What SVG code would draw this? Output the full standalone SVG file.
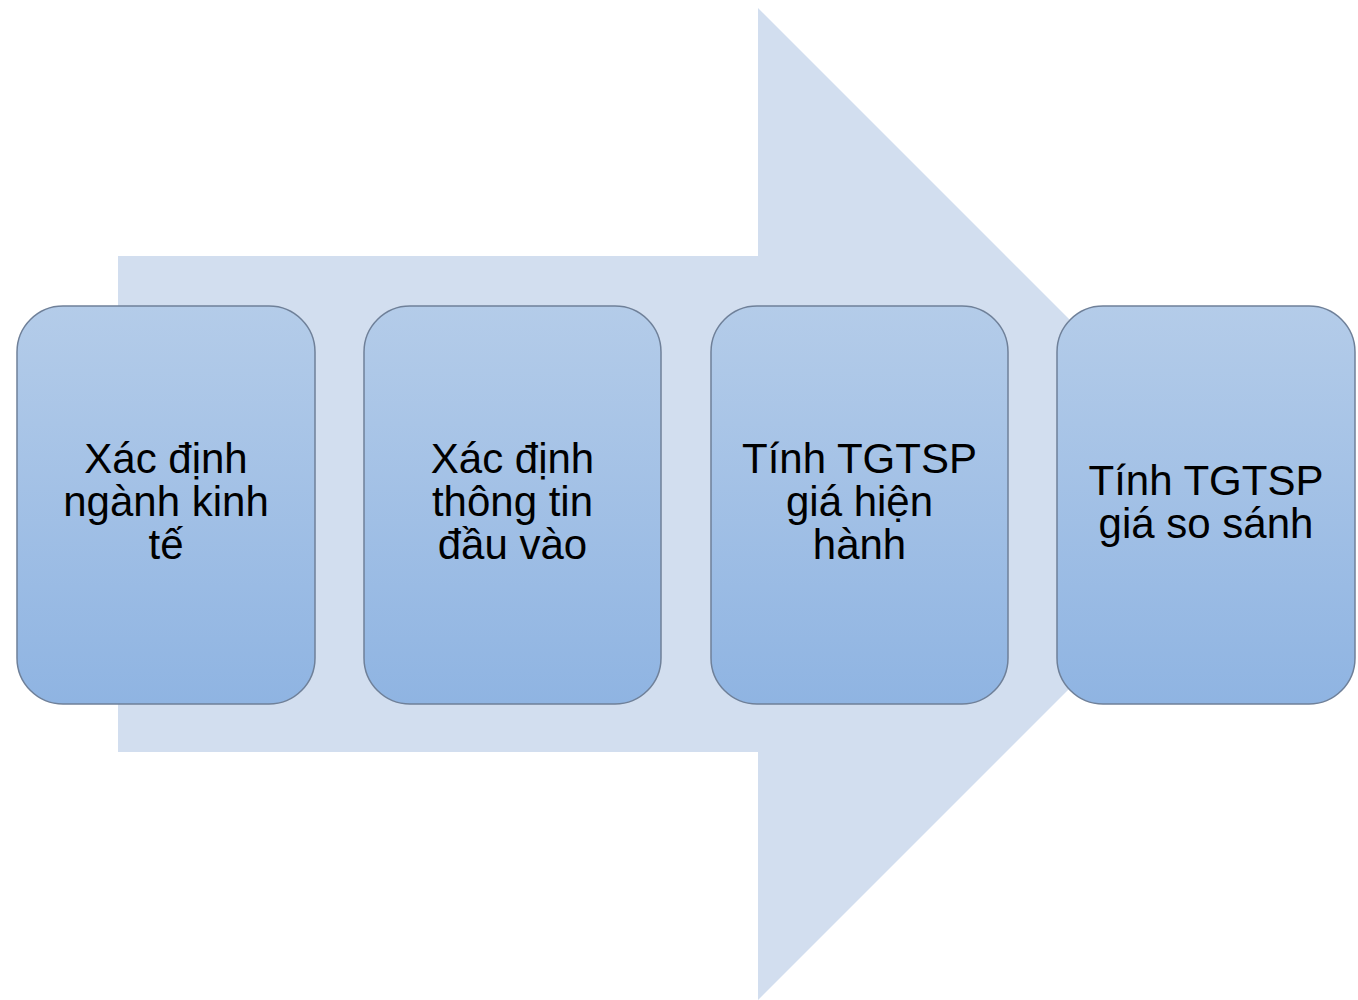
<svg xmlns="http://www.w3.org/2000/svg" width="1358" height="1000" viewBox="0 0 1358 1000">
<defs>
<linearGradient id="boxGrad" x1="0" y1="0" x2="0" y2="1">
<stop offset="0" stop-color="#b4cce9"/>
<stop offset="1" stop-color="#8fb4e2"/>
</linearGradient>
</defs>
<style>
.box{fill:url(#boxGrad);stroke:#6f8099;stroke-width:1.5}
.lbl{font-family:"Liberation Sans",Arial,sans-serif;font-size:42px;fill:#000;text-anchor:middle}
</style>
<rect width="1358" height="1000" fill="#ffffff"/>
<g id="arrow">
<polygon points="118,256 758,256 758,8 1254,504 758,1000 758,752 118,752" fill="#d2deef"/>
</g>
<g id="connectors"></g>
<g id="node1">
<rect class="box" x="17" y="306" width="298" height="398" rx="46" ry="46"/>
<text class="lbl" x="166" y="473">Xác định</text>
<text class="lbl" x="166" y="516">ngành kinh</text>
<text class="lbl" x="166" y="559">tế</text>
</g>
<g id="node2">
<rect class="box" x="364" y="306" width="297" height="398" rx="46" ry="46"/>
<text class="lbl" x="512.5" y="473">Xác định</text>
<text class="lbl" x="512.5" y="516">thông tin</text>
<text class="lbl" x="512.5" y="559">đầu vào</text>
</g>
<g id="node3">
<rect class="box" x="711" y="306" width="297" height="398" rx="46" ry="46"/>
<text class="lbl" x="859.5" y="473">Tính TGTSP</text>
<text class="lbl" x="859.5" y="516">giá hiện</text>
<text class="lbl" x="859.5" y="559">hành</text>
</g>
<g id="node4">
<rect class="box" x="1057" y="306" width="298" height="398" rx="46" ry="46"/>
<text class="lbl" x="1206" y="495">Tính TGTSP</text>
<text class="lbl" x="1206" y="538">giá so sánh</text>
</g>
</svg>
